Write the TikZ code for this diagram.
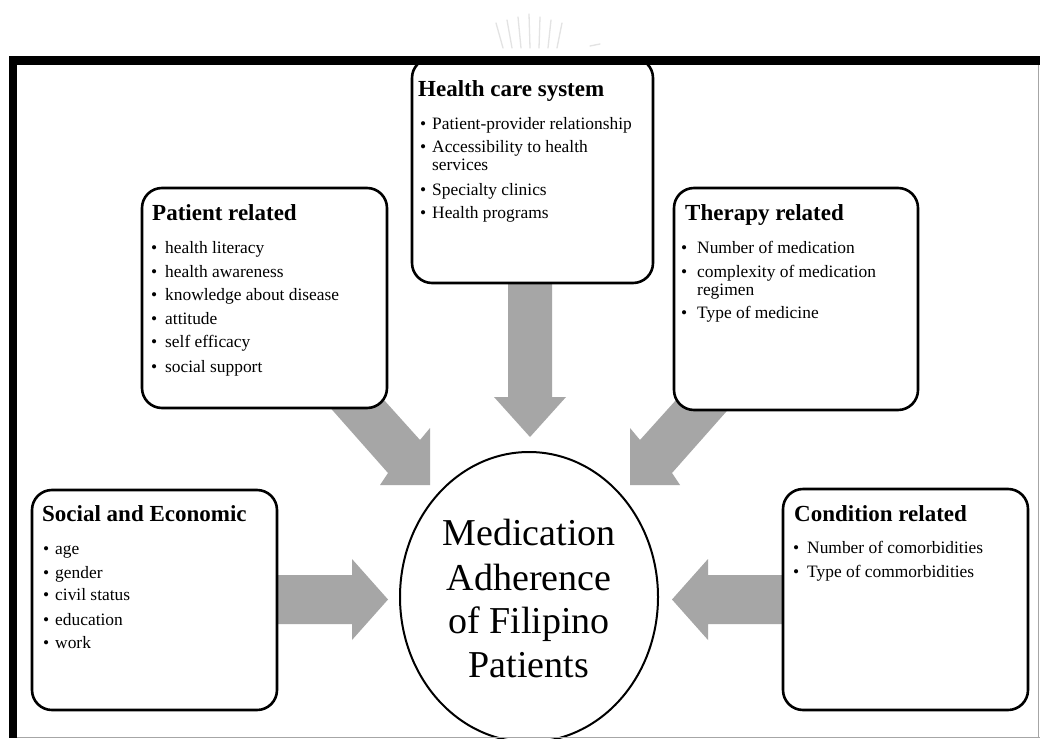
\documentclass[tikz,border=0pt]{standalone}
\usepackage{fontspec}
\setmainfont{Liberation Serif}
\usetikzlibrary{shapes.geometric}
\definecolor{arrgray}{RGB}{166,166,166}
\newcommand\bitem[5]{\node[itm] (#1d) at (#2,#5) {•}; \node[itm] (#1) at (#3,#5) {#4};}
\begin{document}
\begin{tikzpicture}[x=1pt,y=-1pt,
  box/.style={draw=black, line width=2.6pt, rounded corners=20pt, fill=white, inner sep=0pt, outer sep=0pt, anchor=north west},
  arr/.style={fill=arrgray},
  ttl/.style={anchor=base west, inner sep=0pt, font=\fontsize{23pt}{23pt}\selectfont\bfseries},
  itm/.style={anchor=base west, inner sep=0pt, font=\fontsize{17.4pt}{18pt}\selectfont},
  core/.style={anchor=base, inner sep=0pt, font=\fontsize{38pt}{44pt}\selectfont},
  wm/.style={draw=gray!22, line width=1.3pt, line cap=round}]
\useasboundingbox (0,0) rectangle (1040,738);
\fill[white] (0,0) rectangle (1040,738);
% faint watermark
\foreach \i in {0,...,6} {\draw[wm] ({503+\i*9},48) -- ({496+\i*11},{14+abs(\i-3)*3});}
\draw[wm] (590,46) -- (600,44);
% block arrows
\fill[arr] (319,395) -- (388,473) -- (380,485) -- (430,485) -- (430,428) -- (420,440) -- (379.5,395) -- cycle;
\fill[arr] (741,395) -- (672,473) -- (680,485) -- (630,485) -- (630,428) -- (640,440) -- (680.5,395) -- cycle;
\fill[arr] (508,270) -- (508,397) -- (494,397) -- (530,437) -- (566,397) -- (552,397) -- (552,270) -- cycle;
\fill[arr] (260,575) -- (352,575) -- (352,559) -- (388,599.5) -- (352,640) -- (352,624) -- (260,624) -- cycle;
\fill[arr] (800,575) -- (708,575) -- (708,559) -- (672,599.5) -- (708,640) -- (708,624) -- (800,624) -- cycle;
% boxes
\node[box, minimum width=241pt, minimum height=225pt] (health) at (412,58) {};
\node[box, minimum width=245pt, minimum height=220pt] (patient) at (142,188) {};
\node[box, minimum width=244pt, minimum height=222pt] (therapy) at (674,188) {};
\node[box, minimum width=245pt, minimum height=220pt] (social) at (32,490) {};
\node[box, minimum width=245pt, minimum height=221pt] (condition) at (783,489) {};
% central ellipse
\node[draw=black, line width=2pt, ellipse, fill=white, inner sep=0pt, minimum width=258pt, minimum height=290pt] (centre) at (529,597) {};
\node[core] (m1) at (529,545) {Medication};
\node[core] (m2) at (529,590) {Adherence};
\node[core] (m3) at (529,633) {of Filipino};
\node[core] (m4) at (529,677) {Patients};
% health care system
\node[ttl] (ht) at (418,97) {Health care system};
\bitem{h1}{420}{432}{Patient-provider relationship}{130}
\bitem{h2}{420}{432}{Accessibility to health}{153}
\node[itm] (h2b) at (432,171) {services};
\bitem{h3}{420}{432}{Specialty clinics}{195}
\bitem{h4}{420}{432}{Health programs}{218}
% patient related
\node[ttl] (pt) at (152,220) {Patient related};
\bitem{p1}{151}{165}{health literacy}{253}
\bitem{p2}{151}{165}{health awareness}{277}
\bitem{p3}{151}{165}{knowledge about disease}{300}
\bitem{p4}{151}{165}{attitude}{324}
\bitem{p5}{151}{165}{self efficacy}{347}
\bitem{p6}{151}{165}{social support}{372}
% therapy related
\node[ttl] (tt) at (685,220) {Therapy related};
\bitem{t1}{681}{697}{Number of medication}{253}
\bitem{t2}{681}{697}{complexity of medication}{277}
\node[itm] (t2b) at (697,295) {regimen};
\bitem{t3}{681}{697}{Type of medicine}{318}
% social and economic
\node[ttl] (st) at (42,521) {Social and Economic};
\bitem{s1}{43}{55}{age}{554}
\bitem{s2}{43}{55}{gender}{578}
\bitem{s3}{43}{55}{civil status}{600}
\bitem{s4}{43}{55}{education}{625}
\bitem{s5}{43}{55}{work}{648}
% condition related
\node[ttl] (ct) at (794,521) {Condition related};
\bitem{c1}{793}{807}{Number of comorbidities}{553}
\bitem{c2}{793}{807}{Type of commorbidities}{577}
% frame
\fill[black] (9,56) rectangle (1040,65);
\fill[black] (9,56) rectangle (17,738);
\draw[gray!70, line width=1pt] (17,737) -- (1040,737);
\draw[gray!70, line width=1pt] (1038,65) -- (1038,738);
\end{tikzpicture}
\end{document}
